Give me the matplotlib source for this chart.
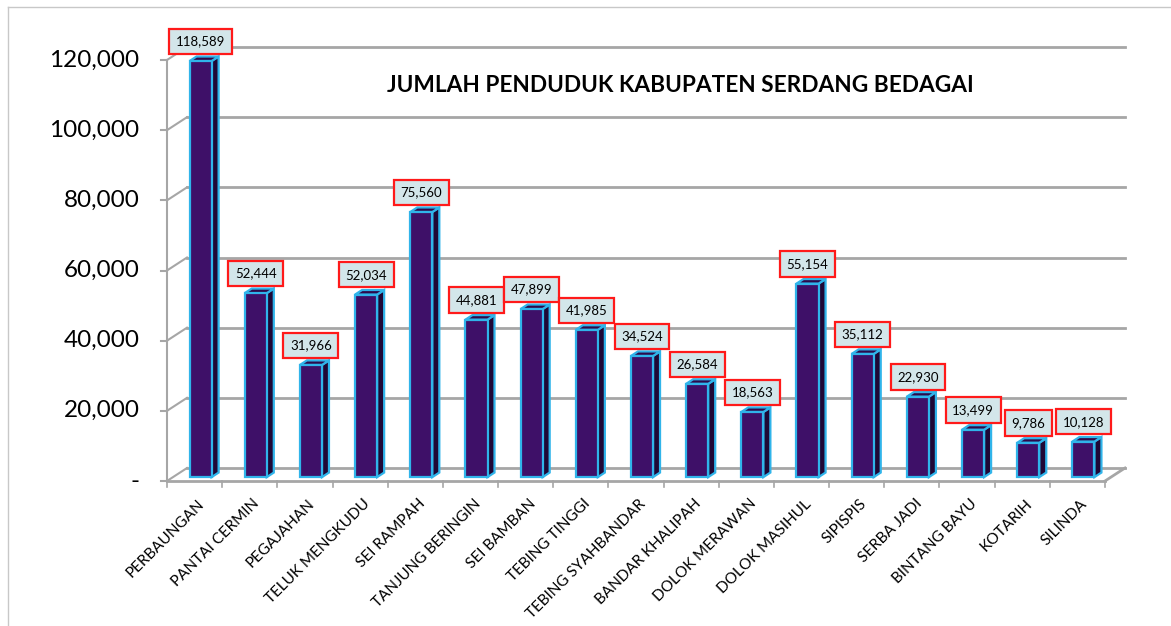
import matplotlib
matplotlib.use("Agg")
import matplotlib.pyplot as plt
from matplotlib.patches import Polygon
from matplotlib.lines import Line2D

plt.rcParams['font.family'] = ['Lato', 'DejaVu Sans']

kecamatan = ["PERBAUNGAN", "PANTAI CERMIN", "PEGAJAHAN", "TELUK MENGKUDU",
             "SEI RAMPAH", "TANJUNG BERINGIN", "SEI BAMBAN", "TEBING TINGGI",
             "TEBING SYAHBANDAR", "BANDAR KHALIPAH", "DOLOK MERAWAN",
             "DOLOK MASIHUL", "SIPISPIS", "SERBA JADI", "BINTANG BAYU",
             "KOTARIH", "SILINDA"]
penduduk = [118589, 52444, 31966, 52034, 75560, 44881, 47899, 41985, 34524,
            26584, 18563, 55154, 35112, 22930, 13499, 9786, 10128]
yticks = [0, 20000, 40000, 60000, 80000, 100000, 120000]
ytick_labels = ["-", "20,000", "40,000", "60,000", "80,000", "100,000", "120,000"]

W, H = 1171, 626
fig = plt.figure(figsize=(W / 100, H / 100), dpi=100)
ax = fig.add_axes([167 / W, (H - 481) / H, 938 / W, 421 / H])
n = len(kecamatan)
ax.set_xlim(0, n)
ax.set_ylim(0, 120000)
ax.axis("off")

# depth of the pseudo 3d box, in data units
DX = 20 / (938 / n)
DY = 13 / (421 / 120000)
grid_c = "#a6a6a6"

def seg(x0, y0, x1, y1, **kw):
    ax.add_line(Line2D([x0, x1], [y0, y1], clip_on=False, **kw))

# back wall gridlines + left diagonals + axis ticks
for v in yticks:
    seg(DX, v + DY, n + DX, v + DY, color=grid_c, lw=2, zorder=1)
    seg(0, v, DX, v + DY, color=grid_c, lw=1.5, zorder=1)
    seg(-0.11, v, 0, v, color=grid_c, lw=1.5, zorder=1)
seg(0, 0, 0, 120000, color=grid_c, lw=1.5, zorder=1)
# floor
seg(0, 0, n, 0, color=grid_c, lw=2, zorder=1)
seg(n, 0, n + DX, DY, color=grid_c, lw=2, zorder=1)
for i in range(n + 1):
    seg(i, 0, i, -1700, color=grid_c, lw=1.2, zorder=1)

for v, lab in zip(yticks, ytick_labels):
    ax.text(-0.5, v, lab, ha="right", va="center", fontsize=17.5, color="black")

# bars
f0, f1 = 0.3, 0.65
hw = 0.2
edge = "#30b4ea"
for i, (name, v) in enumerate(zip(kecamatan, penduduk)):
    c = i + 0.5
    x0 = c - hw + f0 * DX
    x1 = c + hw + f0 * DX
    yb = f0 * DY
    yt = v + f0 * DY
    ddx = (f1 - f0) * DX
    ddy = (f1 - f0) * DY
    front = Polygon([(x0, yb), (x1, yb), (x1, yt), (x0, yt)], closed=True,
                    fc="#3e1068", ec=edge, lw=1.6, zorder=3, clip_on=False)
    side = Polygon([(x1, yb), (x1 + ddx, yb + ddy), (x1 + ddx, yt + ddy), (x1, yt)],
                   closed=True, fc="#1f0836", ec=edge, lw=1.6, zorder=2, clip_on=False)
    top = Polygon([(x0, yt), (x1, yt), (x1 + ddx, yt + ddy), (x0 + ddx, yt + ddy)],
                  closed=True, fc="#2c0b4c", ec=edge, lw=1.6, zorder=2, clip_on=False)
    for p in (side, top, front):
        ax.add_patch(p)
    ax.text((x0 + x1) / 2, yt + ddy + 2600, f"{v:,}", ha="center", va="bottom",
            fontsize=9.5, zorder=5,
            bbox=dict(boxstyle="square,pad=0.5", fc="#d3e6ea", ec="#ff1a1a", lw=1.6))
    ax.text(c + 0.05, -4500, name, rotation=45, ha="right", va="top",
            rotation_mode="anchor", fontsize=11)

fig.text(680 / W, 1 - 85 / H, "JUMLAH PENDUDUK KABUPATEN SERDANG BEDAGAI",
         ha="center", va="center", fontsize=16.3, fontweight="bold")

# chart frame
fig.add_artist(Line2D([8 / W, 1], [1 - 7 / H, 1 - 7 / H], transform=fig.transFigure,
                      color="#c8c8c8", lw=1))
fig.add_artist(Line2D([8 / W, 8 / W], [0, 1 - 7 / H], transform=fig.transFigure,
                      color="#c8c8c8", lw=1))

fig.savefig("out.png", dpi=100)
